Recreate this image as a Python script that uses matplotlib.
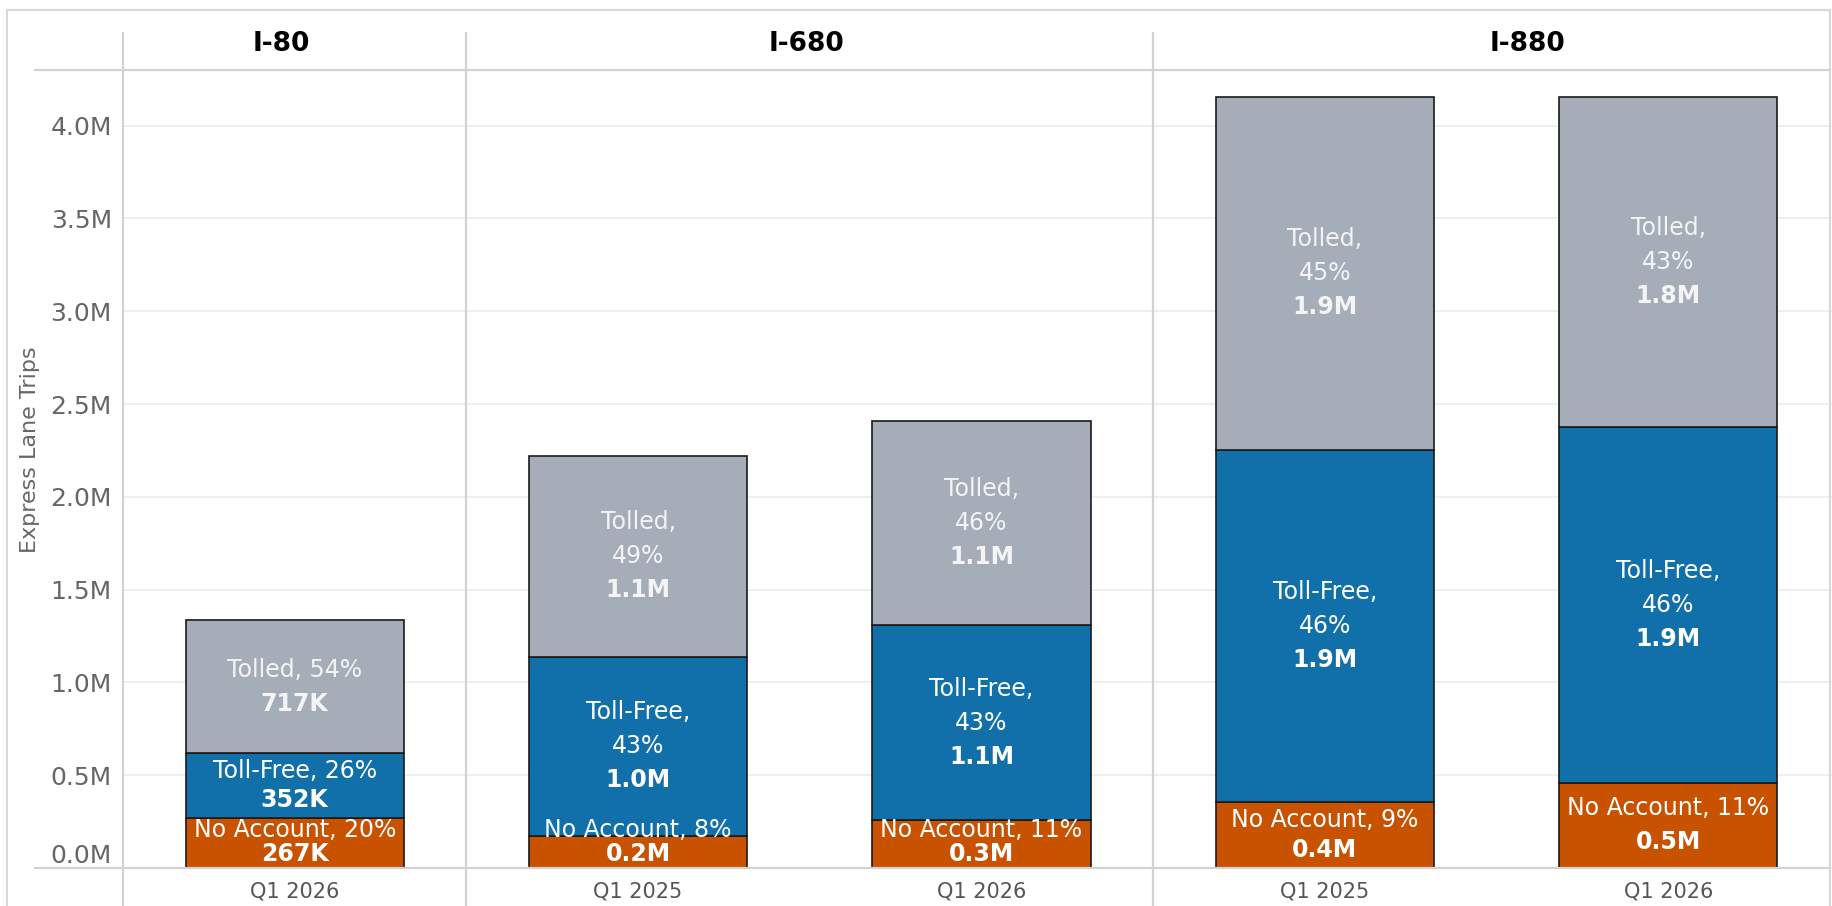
import matplotlib.pyplot as plt
from matplotlib.lines import Line2D
from matplotlib.patches import Rectangle
from matplotlib.transforms import blended_transform_factory

# 数据（单位：百万次）
panels = ['I-80', 'I-680', 'I-880']
header_x = [-0.04, 1.49, 3.59]
quarters = ['Q1 2026', 'Q1 2025', 'Q1 2026', 'Q1 2025', 'Q1 2026']

no_account = [0.267, 0.172, 0.258, 0.358, 0.459]
toll_free = [0.352, 0.966, 1.050, 1.894, 1.918]
tolled = [0.717, 1.082, 1.100, 1.905, 1.780]

no_account_text = ['No Account, 20%', 'No Account, 8%', 'No Account, 11%',
                   'No Account, 9%', 'No Account, 11%']
toll_free_text = ['Toll-Free, 26%', 'Toll-Free,\n43%', 'Toll-Free,\n43%',
                  'Toll-Free,\n46%', 'Toll-Free,\n46%']
tolled_text = ['Tolled, 54%', 'Tolled,\n49%', 'Tolled,\n46%',
               'Tolled,\n45%', 'Tolled,\n43%']
no_account_val = ['267K', '0.2M', '0.3M', '0.4M', '0.5M']
toll_free_val = ['352K', '1.0M', '1.1M', '1.9M', '1.9M']
tolled_val = ['717K', '1.1M', '1.1M', '1.9M', '1.8M']

yticks = [0, 0.5, 1.0, 1.5, 2.0, 2.5, 3.0, 3.5, 4.0]

c_orange = '#C85200'
c_blue = '#1170AA'
c_gray = '#A4ADB8'
line_c = '#d2d2d2'

W, H = 1832, 906
fig = plt.figure(figsize=(W / 100, H / 100), dpi=100)
ax_l, ax_r, ax_t, ax_b = 123, 1840, 70, 868
ax = fig.add_axes([ax_l / W, 1 - ax_b / H, (ax_r - ax_l) / W, (ax_b - ax_t) / H])
ax.set_xlim(-0.5, 4.5)
ax.set_ylim(0, 4.3)

x = list(range(len(quarters)))
bw = 0.635
bottom2 = [a + b for a, b in zip(no_account, toll_free)]
ax.bar(x, no_account, width=bw, color=c_orange, edgecolor='#1a1a1a', linewidth=1.2, zorder=3)
ax.bar(x, toll_free, width=bw, bottom=no_account, color=c_blue, edgecolor='#1a1a1a', linewidth=1.2, zorder=3)
ax.bar(x, tolled, width=bw, bottom=bottom2, color=c_gray, edgecolor='#1a1a1a', linewidth=1.2, zorder=3)

# 坐标轴样式
for s in ax.spines.values():
    s.set_visible(False)
ax.set_yticks(yticks, [f'{v:.1f}M' for v in yticks])
ax.tick_params(axis='y', length=0, labelsize=18, labelcolor='#666666', pad=8)
ax.set_xticks(x, quarters)
ax.tick_params(axis='x', length=0, labelsize=15, labelcolor='#555555', pad=10)
ax.get_yticklabels()[0].set_va('bottom')
ax.yaxis.grid(True, color='#ececec', linewidth=1.2, zorder=0)
ax.set_axisbelow(True)

fig.text(30 / W, 1 - 450 / H, 'Express Lane Trips', rotation=90, ha='center', va='center',
         fontsize=16, color='#666666')

# 面板标题与分隔线
tr = blended_transform_factory(ax.transData, ax.transAxes)
for name, hx in zip(panels, header_x):
    ax.text(hx, 1 + 26 / (ax_b - ax_t), name, transform=tr, ha='center', va='center',
            fontsize=19, fontweight='bold', color='black')
for xv in [-0.5, 0.5, 2.5]:
    ax.plot([xv, xv], [-(H - ax_b) / (ax_b - ax_t), 1 + (ax_t - 33) / (ax_b - ax_t)], transform=tr,
            color=line_c, linewidth=1.6, clip_on=False, zorder=1)
for yp in [ax_t, ax_b]:
    fig.add_artist(Line2D([35 / W, 1830 / W], [1 - yp / H, 1 - yp / H], color=line_c, linewidth=1.6))
fig.add_artist(Rectangle((7 / W, -0.01), (1830 - 7) / W, 1.01 - 10 / H, transform=fig.transFigure,
                         fill=False, edgecolor='#d8d8d8', linewidth=1.5))

# 柱内标签
px_per_m = (ax_b - ax_t) / 4.3
pt = 72 / 100


def put_labels(xi, base, height, text, val, color):
    lines = text.split('\n') + [val]
    n = len(lines)
    h_px = height * px_per_m
    gap = min(34, max(24, 0.45 * h_px)) if n == 2 else 34
    center = (base + height / 2) * px_per_m
    offs = [center + ((n - 1) / 2 - i) * gap for i in range(n)]
    low = base * px_per_m + 14
    if offs[-1] < low:
        shift = low - offs[-1]
        offs = [o + shift for o in offs]
    for i, (ln, o) in enumerate(zip(lines, offs)):
        ax.annotate(ln, xy=(xi, 0), xytext=(0, o * pt), textcoords='offset points',
                    ha='center', va='center', fontsize=17, color=color,
                    fontweight='bold' if i == n - 1 else 'normal', zorder=4)


for i in x:
    put_labels(i, 0, no_account[i], no_account_text[i], no_account_val[i], 'white')
    put_labels(i, no_account[i], toll_free[i], toll_free_text[i], toll_free_val[i], 'white')
    put_labels(i, bottom2[i], tolled[i], tolled_text[i], tolled_val[i], '#f4f4f4')

plt.savefig('out.png', dpi=100)
